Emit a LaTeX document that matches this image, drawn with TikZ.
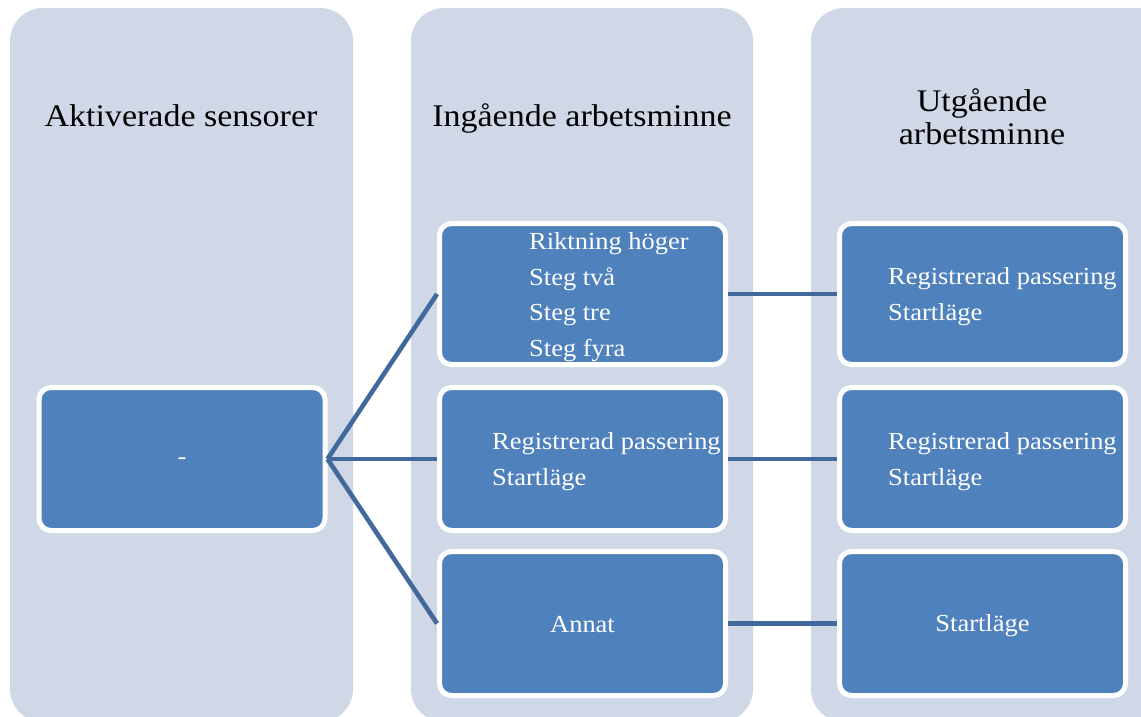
\documentclass[tikz,border=0pt]{standalone}
\usepackage{fontspec}
\setmainfont[FakeStretch=1.08]{Liberation Serif}
\definecolor{panelbg}{HTML}{D0D8E8}
\definecolor{boxblue}{HTML}{4F81BD}
\definecolor{linkblue}{RGB}{65,105,155}
\tikzset{
  panel/.style={fill=panelbg, draw=none, rounded corners=33pt},
  bluebox/.style={rectangle, fill=boxblue, draw=white, line width=5pt, rounded corners=12pt,
    inner sep=0pt, minimum width=286pt, minimum height=141pt},
  header/.style={font=\fontsize{31.5}{33}\selectfont, align=center, text=black},
  boxtext/.style={font=\fontsize{24.5}{35.5}\selectfont, align=left, text=white, inner sep=0pt},
  link/.style={draw=linkblue, line width=4.6pt}
}
\begin{document}
\begin{tikzpicture}[x=1pt, y=-1pt]
\useasboundingbox (0,0) rectangle (1141,717);
\clip (0,0) rectangle (1141,717);
\fill[white] (0,0) rectangle (1141,717);
% panels
\path[panel] (10,8) rectangle (353,722);
\path[panel] (411,8) rectangle (753,722);
\path[panel] (811,8) rectangle (1180,722);
% headers
\node[header, anchor=base] (h1) at (181,126) {Aktiverade sensorer};
\node[header, anchor=base] (h2) at (582,126) {Ingående arbetsminne};
\node[header] (h3) at (982,117) {Utgående\\arbetsminne};
% boxes
\node[bluebox, minimum height=143pt] (ls) at (182,459) {};
\node[bluebox] (m1) at (582.5,294) {};
\node[bluebox, minimum height=143pt] (m2) at (582.5,459) {};
\node[bluebox, minimum height=144pt] (m3) at (582.5,623.5) {};
\node[bluebox] (r1) at (982.5,294) {};
\node[bluebox, minimum height=143pt] (r2) at (982.5,459) {};
\node[bluebox, minimum height=144pt] (r3) at (982.5,623.5) {};
% texts
\node[boxtext] (tls) at (182,461) {-};
\node[boxtext, anchor=west] (tm1) at (529,297) {Riktning höger\\Steg två\\Steg tre\\Steg fyra};
\node[boxtext, anchor=west] (tm2) at (492,461.5) {Registrerad passering\\Startläge};
\node[boxtext] (tm3) at (582.5,625) {Annat};
\node[boxtext, anchor=west] (tr1) at (888,296.5) {Registrerad passering\\Startläge};
\node[boxtext, anchor=west] (tr2) at (888,461.5) {Registrerad passering\\Startläge};
\node[boxtext] (tr3) at (982.5,626) {Startläge};
% connectors
\draw[link] (ls.east) -- (m1.west);
\draw[link] (ls.east) -- (m2.west);
\draw[link] (ls.east) -- (m3.west);
\draw[link] (m1.east) -- (r1.west);
\draw[link] (m2.east) -- (r2.west);
\draw[link] (m3.east) -- (r3.west);
\end{tikzpicture}
\end{document}
